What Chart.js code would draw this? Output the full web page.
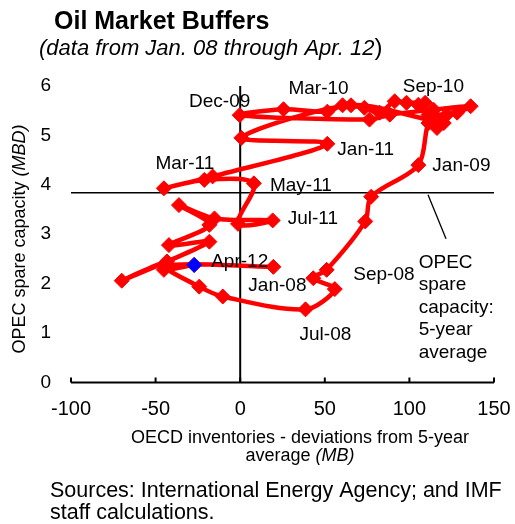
<!DOCTYPE html>
<html><head><meta charset="utf-8">
<script src="https://cdn.jsdelivr.net/npm/chart.js@4.4.1/dist/chart.umd.min.js"></script>
<style>html,body{margin:0;padding:0;background:#fff;}canvas{display:block}</style>
</head><body>
<canvas id="c" width="515" height="524"></canvas>
<script>
// ---- data ----
const months = ['Jan-08','Feb-08','Mar-08','Apr-08','Jul-08','Aug-08','Sep-08','Oct-08','Nov-08','Dec-08',
  'Jan-09','Feb-09','Mar-09','Apr-09','May-09','Jun-09','Jul-09','Aug-09','Sep-09','Oct-09','Nov-09','Dec-09',
  'Jan-10','Feb-10','Mar-10','Apr-10','May-10','Jun-10','Jul-10','Aug-10','Sep-10','Oct-10','Nov-10','Dec-10',
  'Jan-11','Feb-11','Mar-11','Apr-11','May-11','Jun-11','Jul-11','Aug-11','Sep-11','Oct-11','Nov-11','Dec-11',
  'Jan-12','Feb-12','Mar-12','Apr-12'];
const inventories = [19.6,-44,-24.2,-10.3,38.6,55.9,43.2,51.1,73.9,77.4,
  105.3,111.3,116.3,120.3,111.3,122.2,128.2,136.2,114.3,88.4,76.4,-0.3,
  25.6,51.5,60.5,73.4,82.4,91.3,98.3,109.3,105.3,117.3,65.5,0.7,
  51.5,-16.3,-45.1,-21.2,8.1,-1.3,19.2,-15.2,-36.2,-18.2,-42.1,-18.2,
  -70,-43.3,-45.1,-27.2];
const spareCapacity = [2.34,2.36,1.94,1.74,1.48,1.89,2.11,2.28,3.26,3.76,
  4.40,5.25,5.15,5.25,5.42,5.42,5.46,5.59,5.52,5.42,5.32,5.41,
  5.53,5.48,5.61,5.56,5.46,5.69,5.66,5.66,5.62,5.29,5.61,4.95,
  4.83,4.17,3.93,4.10,4.03,3.21,3.28,3.32,3.59,3.19,2.78,2.85,
  2.06,2.45,2.28,2.38];
const highlightMonth = 'Apr-12';
const labelledMonths = ['Jan-08','Jul-08','Sep-08','Jan-09','Dec-09','Mar-10','Sep-10','Jan-11','Mar-11','May-11','Jul-11','Apr-12'];
const spareAverage = 3.84;
const xTicks = [-100,-50,0,50,100,150];
const yTicks = [0,1,2,3,4,5,6];

// ---- layout / style (not data) ----
const FONT = '"Liberation Sans", Arial, sans-serif';
const labelOffsets = {
  'Jan-08':[-25,19,'left'], 'Jul-08':[-6,25,'left'], 'Sep-08':[40,-3,'left'],
  'Jan-09':[14,1,'left'], 'Dec-09':[-20,-13,'center'], 'Mar-10':[-24,-17,'center'],
  'Sep-10':[15,-18,'center'], 'Jan-11':[10,6,'left'], 'Mar-11':[21,-25,'center'],
  'May-11':[16,2,'left'], 'Jul-11':[15,-2,'left'], 'Apr-12':[17,-3,'left']
};

const mainPoints = months.map((m,i)=>({x:inventories[i], y:spareCapacity[i]}));
const hi = months.indexOf(highlightMonth);
const hiPoints = [{x:inventories[hi], y:spareCapacity[hi]}];

function drawRich(ctx, parts, x, y, align){
  let total = 0;
  parts.forEach(p=>{ctx.font=p[1]; total+=ctx.measureText(p[0]).width;});
  let cx = align==='center' ? x-total/2 : x;
  ctx.textAlign='left';
  parts.forEach(p=>{ctx.font=p[1]; ctx.fillText(p[0],cx,y); cx+=ctx.measureText(p[0]).width;});
}
function zeroPad(s){ s.paddingLeft=0; s.paddingRight=0; s.paddingTop=0; s.paddingBottom=0; }

const decor = {
  id:'decor',
  beforeDatasetsDraw(chart){
    const ctx=chart.ctx, xs=chart.scales.x, ys=chart.scales.y;
    ctx.save();
    ctx.strokeStyle='#000';
    ctx.lineWidth=2;
    ctx.beginPath();
    ctx.moveTo(xs.getPixelForValue(0), ys.getPixelForValue(yTicks[0]));
    ctx.lineTo(xs.getPixelForValue(0), ys.getPixelForValue(yTicks[yTicks.length-1]));
    ctx.stroke();
    const y0 = ys.getPixelForValue(0);
    ctx.beginPath();
    ctx.moveTo(xs.getPixelForValue(xTicks[0]), y0);
    ctx.lineTo(xs.getPixelForValue(xTicks[xTicks.length-1]), y0);
    xTicks.forEach(t=>{const px=xs.getPixelForValue(t); ctx.moveTo(px,y0); ctx.lineTo(px,y0-5);});
    ctx.stroke();
    const ya = ys.getPixelForValue(spareAverage);
    ctx.lineWidth=1.6;
    ctx.beginPath();
    ctx.moveTo(xs.getPixelForValue(xTicks[0]), ya);
    ctx.lineTo(xs.getPixelForValue(xTicks[xTicks.length-1]), ya);
    ctx.stroke();
    const lx = xs.getPixelForValue(111);
    ctx.lineWidth=1.3;
    ctx.beginPath(); ctx.moveTo(lx, ya+2); ctx.lineTo(lx+18, ya+46); ctx.stroke();
    ctx.restore();
  },
  afterDraw(chart){
    const ctx=chart.ctx, xs=chart.scales.x, ys=chart.scales.y;
    ctx.save();
    ctx.fillStyle='#000';
    ctx.textBaseline='alphabetic';
    ctx.font='bold 25px '+FONT;
    ctx.textAlign='left';
    ctx.fillText('Oil Market Buffers', 54, 29);
    drawRich(ctx, [['(data from Jan. 08 through Apr. 12','italic 22px '+FONT],[')','24px '+FONT]], 39, 55, 'left');
    ctx.save();
    ctx.translate(25, 239);
    ctx.rotate(-Math.PI/2);
    drawRich(ctx, [['OPEC spare capacity ','18px '+FONT],['(MBD)','italic 18px '+FONT]], 0, 0, 'center');
    ctx.restore();
    ctx.font='18px '+FONT; ctx.textAlign='center';
    ctx.fillText('OECD inventories - deviations from 5-year', 300, 443);
    drawRich(ctx, [['average ','18px '+FONT],['(MB)','italic 18px '+FONT]], 300, 461, 'center');
    ctx.font='21.5px '+FONT; ctx.textAlign='left';
    ctx.fillText('Sources: International Energy Agency; and IMF', 50, 497);
    ctx.fillText('staff calculations.', 50, 519);
    ctx.font='19px '+FONT;
    labelledMonths.forEach(m=>{
      const i=months.indexOf(m); const o=labelOffsets[m];
      const px=xs.getPixelForValue(inventories[i]), py=ys.getPixelForValue(spareCapacity[i]);
      ctx.textAlign=o[2]; ctx.textBaseline='middle';
      ctx.fillText(m, px+o[0], py+o[1]);
    });
    const ya = ys.getPixelForValue(spareAverage);
    const ax = xs.getPixelForValue(105.5);
    ctx.textAlign='left'; ctx.textBaseline='alphabetic';
    ['OPEC','spare','capacity:','5-year','average'].forEach((t,k)=>ctx.fillText(t, ax, ya+75+k*22.5));
    ctx.restore();
  }
};

new Chart(document.getElementById('c'), {
  type:'scatter',
  data:{datasets:[
    {label:highlightMonth, data:hiPoints, order:0, showLine:false, pointStyle:'rectRot',
     pointRadius:7.5, pointBackgroundColor:'#0000FF', pointBorderColor:'#0000FF', pointBorderWidth:1},
    {label:'Buffers', data:mainPoints, order:1, showLine:true, borderColor:'#FF0000', borderWidth:4.5,
     tension:0.3, pointStyle:'rectRot', pointRadius:7.5, pointBackgroundColor:'#FF0000',
     pointBorderColor:'#FF0000', pointBorderWidth:1}
  ]},
  options:{
    responsive:false, animation:false, devicePixelRatio:1,
    layout:{padding:{top:86,right:21,left:0,bottom:0}},
    plugins:{legend:{display:false}, tooltip:{enabled:false}},
    scales:{
      x:{type:'linear', min:xTicks[0], max:xTicks[xTicks.length-1],
         afterBuildTicks(s){s.ticks=xTicks.map(v=>({value:v}));},
         afterFit(s){s.height=141.5; zeroPad(s);},
         grid:{display:false, drawTicks:false}, border:{display:false},
         ticks:{color:'#000', font:{family:FONT,size:20}, padding:15, maxRotation:0}},
      y:{type:'linear', min:yTicks[0], max:yTicks[yTicks.length-1],
         afterBuildTicks(s){s.ticks=yTicks.map(v=>({value:v}));},
         afterFit(s){s.width=71; zeroPad(s);},
         grid:{display:false, drawTicks:false}, border:{display:false},
         ticks:{color:'#000', font:{family:FONT,size:19}, padding:20}}
    }
  },
  plugins:[decor]
});
</script>
</body></html>
